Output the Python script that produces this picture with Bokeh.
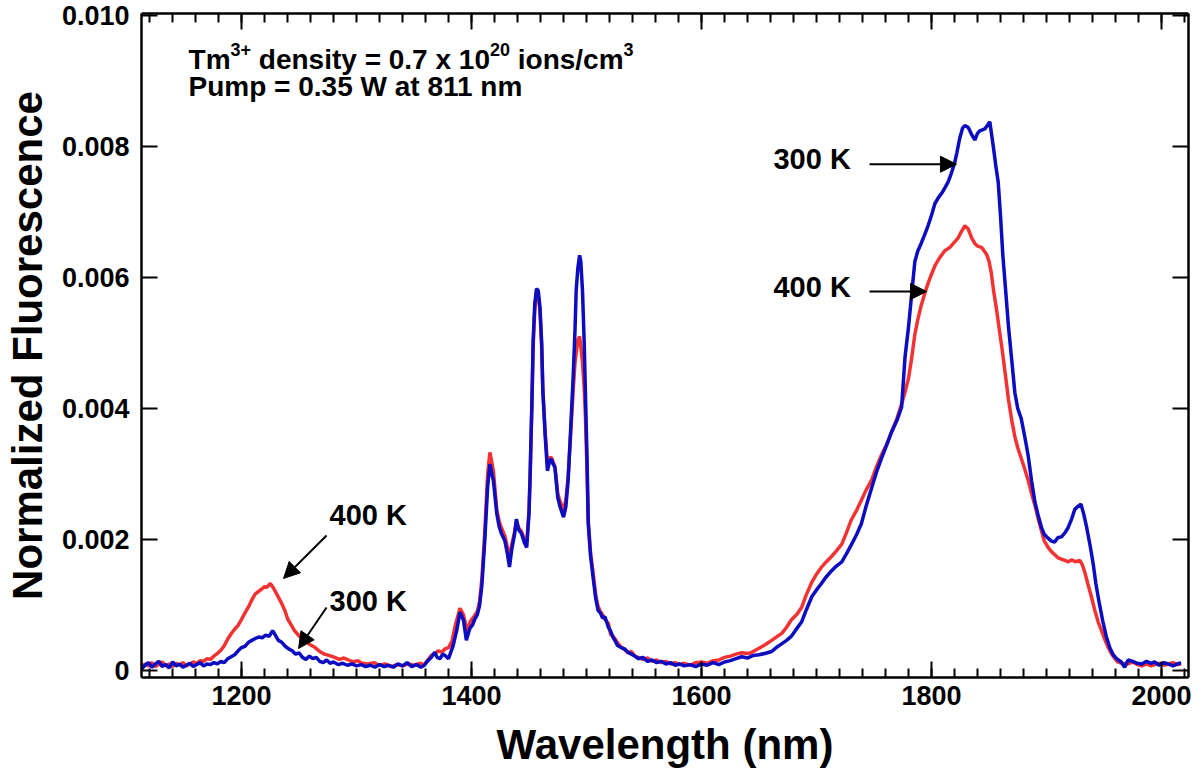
from bokeh.plotting import figure
from bokeh.models import (Range1d, LinearAxis, SingleIntervalTicker, FixedTicker,
                          Label, Arrow, NormalHead, NumeralTickFormatter, CustomJSTickFormatter)
from bokeh.embed import file_html
from bokeh.resources import INLINE

# ---------------- data (fluorescence in units of 1e-3) ----------------
wl_300 = [1113, 1116, 1119, 1122, 1125, 1128, 1131, 1134, 1137, 1140, 1143, 1146, 1149, 1152, 1155, 1158,
          1161, 1164, 1167, 1170, 1173, 1176, 1179, 1182, 1185, 1188, 1191, 1194, 1197, 1200, 1203, 1206,
          1209, 1212, 1215, 1218, 1221, 1224, 1227, 1229, 1232, 1235, 1238, 1241, 1244, 1247, 1250, 1253,
          1256, 1259, 1262, 1265, 1268, 1271, 1274, 1277, 1280, 1284, 1288, 1292, 1296, 1300, 1304, 1308,
          1312, 1316, 1320, 1324, 1328, 1332, 1336, 1340, 1344, 1348, 1352, 1356, 1359, 1362, 1365, 1368,
          1370, 1372.5, 1375, 1377, 1380, 1382, 1384, 1387, 1390, 1393, 1395.5, 1398.5, 1401, 1403, 1405,
          1407, 1409, 1411.5, 1414, 1416, 1419, 1422, 1424, 1426, 1429, 1431, 1433, 1435, 1437.5, 1439, 1441,
          1443.5, 1446, 1448, 1450, 1451, 1452.5, 1453.6, 1455, 1456.5, 1458, 1459.5, 1461, 1462, 1464, 1466,
          1468, 1469.5, 1471, 1472.5, 1475, 1477, 1480, 1482, 1484, 1486, 1488.5, 1490, 1491, 1492.5, 1494,
          1495, 1496.5, 1498, 1499, 1500.5, 1501.5, 1503.5, 1506, 1508, 1510, 1512, 1514, 1516, 1519, 1521,
          1523, 1525, 1527, 1530, 1533, 1536, 1539, 1542, 1545, 1549, 1553, 1557, 1561, 1565, 1569, 1573,
          1577, 1581, 1585, 1590, 1595, 1600, 1605, 1610, 1615, 1620, 1625, 1630, 1635, 1640, 1645, 1650,
          1655, 1661, 1665, 1670, 1674, 1678, 1682, 1687, 1691, 1696, 1700, 1704, 1708, 1713, 1717, 1722,
          1726, 1730, 1735, 1739, 1743, 1748, 1752, 1756.5, 1761, 1765, 1770, 1774, 1777, 1780, 1783, 1785.5,
          1788, 1791, 1794, 1797, 1800, 1803, 1806, 1809, 1812, 1814.5, 1817, 1820, 1822, 1824.6, 1827, 1829,
          1832, 1835, 1837.7, 1840, 1842, 1846.4, 1849, 1850.7, 1853.6, 1856, 1858, 1860, 1862, 1864.5, 1867,
          1870, 1872.5, 1875, 1878, 1881, 1884, 1887, 1890, 1893, 1895.7, 1898, 1901.4, 1904, 1907, 1910,
          1913, 1916, 1918.8, 1922, 1924.6, 1927, 1930, 1932.5, 1935, 1938, 1940.6, 1943, 1946, 1949, 1952,
          1955, 1958, 1961, 1965, 1968, 1971, 1975, 1979, 1983, 1987, 1991, 1994, 1998, 2002, 2006, 2010,
          2014, 2017]
fl_300 = [0.02, 0.08, 0.12, 0.05, 0.10, 0.14, 0.06, 0.09, 0.04, 0.13, 0.07, 0.10, 0.05, 0.08, 0.11, 0.06,
          0.09, 0.12, 0.07, 0.10, 0.09, 0.12, 0.10, 0.14, 0.12, 0.18, 0.21, 0.24, 0.30, 0.35, 0.37, 0.43,
          0.46, 0.49, 0.51, 0.50, 0.54, 0.52, 0.61, 0.55, 0.46, 0.43, 0.37, 0.33, 0.30, 0.25, 0.27, 0.20,
          0.17, 0.22, 0.18, 0.20, 0.14, 0.12, 0.16, 0.11, 0.13, 0.09, 0.11, 0.08, 0.10, 0.07, 0.09, 0.06,
          0.08, 0.05, 0.09, 0.06, 0.08, 0.05, 0.10, 0.07, 0.12, 0.06, 0.09, 0.05, 0.08, 0.15, 0.20, 0.28,
          0.20, 0.18, 0.25, 0.23, 0.18, 0.28, 0.38, 0.60, 0.89, 0.77, 0.46, 0.64, 0.70, 0.79, 0.85,
          0.99, 1.30, 1.98, 2.80, 3.15, 2.90, 2.39, 2.20, 2.09, 1.98, 1.80, 1.58, 1.85, 2.09, 2.31, 2.15,
          2.09, 1.95, 1.88, 2.40, 3.00, 4.10, 5.04, 5.60, 5.83, 5.80, 5.55, 5.00, 4.28, 3.60, 3.05,
          3.20, 3.23, 3.15, 3.10, 2.64, 2.50, 2.34, 2.50, 2.90, 3.60, 4.53, 5.20, 5.80, 6.15, 6.34,
          6.25, 5.80, 5.00, 4.28, 3.20, 2.24, 1.75, 1.38, 1.10, 0.92, 0.88, 0.80, 0.82, 0.66, 0.60,
          0.51, 0.45, 0.38, 0.35, 0.33, 0.28, 0.25, 0.22, 0.18, 0.20, 0.14, 0.16, 0.12, 0.14, 0.10, 0.12,
          0.08, 0.10, 0.07, 0.09, 0.06, 0.10, 0.08, 0.12, 0.09, 0.13, 0.15, 0.18, 0.21, 0.19, 0.23, 0.24,
          0.26, 0.29, 0.35, 0.41, 0.46, 0.52, 0.62, 0.74, 0.92, 1.13, 1.23, 1.32, 1.42, 1.52, 1.59, 1.66,
          1.78, 1.91, 2.08, 2.24, 2.50, 2.79, 3.02, 3.24, 3.44, 3.63, 3.82, 4.02, 4.79, 5.24, 5.79, 6.24,
          6.40, 6.52, 6.65, 6.79, 6.95, 7.13, 7.22, 7.29, 7.38, 7.46, 7.58, 7.74, 7.90, 8.13, 8.28, 8.32,
          8.29, 8.18, 8.10, 8.20, 8.24, 8.27, 8.33, 8.38, 8.02, 7.70, 7.46, 6.95, 6.35, 5.80, 5.24,
          4.70, 4.24, 4.00, 3.85, 3.58, 3.29, 2.90, 2.57, 2.35, 2.18, 2.08, 2.02, 1.98, 1.96, 2.03,
          2.04, 2.10, 2.18, 2.32, 2.46, 2.50, 2.54, 2.38, 2.18, 1.90, 1.63, 1.32, 1.02, 0.75, 0.52,
          0.35, 0.24, 0.18, 0.13, 0.05, 0.16, 0.14, 0.11, 0.10, 0.14, 0.11, 0.13, 0.08, 0.12, 0.10, 0.07,
          0.10, 0.12]

wl_400 = [1113, 1116, 1119, 1122, 1125, 1128, 1131, 1134, 1137, 1140, 1143, 1146, 1149, 1152, 1155, 1158,
          1161, 1164, 1167, 1170, 1173, 1176, 1179, 1182, 1185, 1188, 1191, 1194, 1197, 1200, 1203, 1206,
          1209, 1212, 1215, 1218, 1220, 1222, 1225, 1227, 1229, 1232, 1235, 1238, 1240, 1243, 1246, 1250,
          1255, 1259, 1264, 1268, 1272, 1276, 1281, 1285, 1289, 1293, 1297, 1301, 1305, 1310, 1315, 1320,
          1325, 1330, 1335, 1340, 1345, 1350, 1355, 1359, 1362, 1365, 1368, 1371, 1374, 1377, 1380, 1383,
          1386, 1390, 1393, 1396, 1399, 1402, 1405, 1407, 1409, 1411.5, 1414, 1416, 1419, 1422, 1424, 1426,
          1429, 1431, 1433, 1435, 1437.5, 1439, 1441, 1443.5, 1446, 1448, 1450, 1451, 1452.5, 1453.6, 1455,
          1456.5, 1458, 1459.5, 1461, 1462, 1464, 1466, 1468, 1469.5, 1471, 1472.5, 1475, 1477, 1480, 1482,
          1484, 1486, 1488.5, 1490, 1492.5, 1494, 1495, 1496.5, 1498, 1499, 1500.5, 1501.5, 1503.5, 1506,
          1508, 1510, 1512, 1514, 1516, 1519, 1521, 1523, 1525, 1527, 1530, 1533, 1536, 1539, 1542, 1545,
          1549, 1553, 1557, 1561, 1565, 1569, 1573, 1577, 1581, 1585, 1590, 1595, 1600, 1605, 1610, 1615,
          1620, 1625, 1630, 1635, 1640, 1643, 1648, 1652, 1656, 1661, 1665, 1670, 1674, 1678, 1683, 1687,
          1691, 1696, 1700, 1704, 1708, 1713, 1717, 1722, 1726, 1730, 1735, 1739, 1743, 1748, 1752, 1756.5,
          1761, 1765, 1770, 1774, 1777, 1780, 1783, 1785.5, 1788, 1791, 1794, 1797, 1800, 1803, 1807,
          1811.6, 1816, 1820, 1823, 1826, 1829, 1832, 1835, 1837.7, 1840, 1843.5, 1846, 1848, 1850, 1852,
          1854, 1856.5, 1859, 1861, 1864, 1867, 1870, 1872.5, 1875, 1878, 1881, 1884, 1887, 1890, 1893,
          1895.7, 1898, 1901.4, 1904, 1907, 1910, 1913, 1916, 1919, 1922, 1925, 1929, 1931, 1933, 1936,
          1939, 1942, 1945, 1948, 1951, 1954, 1957, 1960, 1962, 1966, 1971, 1975, 1979, 1983, 1987, 1991,
          1994, 1998, 2002, 2006, 2010, 2014, 2017]
fl_400 = [0.05, 0.10, 0.07, 0.12, 0.06, 0.09, 0.13, 0.07, 0.10, 0.06, 0.11, 0.08, 0.12, 0.07, 0.10, 0.13,
          0.11, 0.15, 0.14, 0.18, 0.17, 0.22, 0.26, 0.31, 0.38, 0.48, 0.56, 0.63, 0.69, 0.78, 0.88, 0.97,
          1.08, 1.17, 1.21, 1.25, 1.28, 1.27, 1.33, 1.28, 1.22, 1.12, 1.02, 0.90, 0.79, 0.70, 0.61, 0.53,
          0.46, 0.40, 0.35, 0.29, 0.25, 0.23, 0.20, 0.17, 0.19, 0.16, 0.13, 0.15, 0.11, 0.10, 0.12, 0.08,
          0.10, 0.06, 0.09, 0.07, 0.10, 0.08, 0.11, 0.09, 0.16, 0.23, 0.25, 0.30, 0.28, 0.33, 0.35, 0.45,
          0.70, 0.95, 0.85, 0.61, 0.75, 0.82, 0.90, 1.05, 1.40, 2.10, 3.00, 3.33, 3.05, 2.45, 2.28, 2.18,
          2.05, 1.90, 1.72, 1.92, 2.12, 2.28, 2.18, 2.12, 2.00, 1.95, 2.45, 3.00, 4.05, 4.95, 5.50,
          5.78, 5.75, 5.50, 4.95, 4.30, 3.65, 3.15, 3.25, 3.25, 3.18, 3.12, 2.70, 2.58, 2.45, 2.60,
          2.95, 3.55, 4.30, 4.70, 5.05, 5.10, 4.95, 4.70, 4.30, 3.90, 3.00, 2.30, 1.80, 1.45,
          1.15, 0.98, 0.90, 0.85, 0.78, 0.72, 0.55, 0.52, 0.48, 0.42, 0.36, 0.32, 0.27, 0.29, 0.22, 0.20,
          0.17, 0.19, 0.14, 0.16, 0.12, 0.14, 0.10, 0.12, 0.09, 0.11, 0.08, 0.12, 0.13, 0.11, 0.15, 0.16,
          0.20, 0.22, 0.25, 0.27, 0.26, 0.27, 0.32, 0.36, 0.40, 0.46, 0.51, 0.57, 0.66, 0.77, 0.86, 0.96,
          1.15, 1.35, 1.47, 1.57, 1.65, 1.74, 1.82, 1.93, 2.10, 2.29, 2.45, 2.60, 2.75, 2.91, 3.10, 3.29,
          3.45, 3.63, 3.85, 4.07, 4.25, 4.46, 4.80, 5.13, 5.35, 5.57, 5.75, 5.91, 6.05, 6.18, 6.30,
          6.41, 6.46, 6.54, 6.60, 6.70, 6.79, 6.74, 6.60, 6.52, 6.48, 6.46, 6.40, 6.35, 6.25, 6.07,
          5.80, 5.52, 5.20, 4.96, 4.55, 4.13, 3.80, 3.57, 3.40, 3.24, 3.08, 2.91, 2.70, 2.52, 2.30,
          2.13, 1.98, 1.88, 1.82, 1.77, 1.72, 1.70, 1.68, 1.66, 1.69, 1.66, 1.68, 1.62, 1.52, 1.32,
          1.13, 0.92, 0.74, 0.60, 0.46, 0.34, 0.24, 0.17, 0.13, 0.11, 0.10, 0.13, 0.09, 0.07, 0.10, 0.07,
          0.09, 0.11, 0.08, 0.10, 0.12, 0.09, 0.10]

y_ticks = [0.0, 0.002, 0.004, 0.006, 0.008, 0.010]
y_tick_labels = ["0", "0.002", "0.004", "0.006", "0.008", "0.010"]

# (text, superscript?, leading space?)
header_line1 = [("Tm", False, False), ("3+", True, False), ("density = 0.7 x 10", False, True),
                ("20", True, False), ("ions/cm", False, True), ("3", True, False)]
header_line2 = "Pump = 0.35 W at 811 nm"

SCALE = 1e-3
FONT = "Liberation Sans"
LIFT = 10  # pixel lift applied to every text label

p = figure(frame_width=1047, frame_height=664, output_backend="svg", toolbar_location=None,
           x_range=Range1d(1113.0, 2023.5), y_range=Range1d(-0.000107, 0.010031),
           min_border_left=140, min_border_right=10, min_border_top=13, min_border_bottom=10,
           x_axis_type=None, y_axis_type=None)
p.grid.visible = False
p.outline_line_color = None
p.background_fill_color = "white"

x_ticker = SingleIntervalTicker(interval=200, num_minor_ticks=10)
y_ticker = FixedTicker(ticks=y_ticks, minor_ticks=[])
blank = CustomJSTickFormatter(code="return '';")


def style_axis(ax, show_labels):
    ax.axis_line_width = 2.5
    ax.axis_line_color = "black"
    ax.major_tick_in = 16
    ax.major_tick_out = 0
    ax.minor_tick_in = 9
    ax.minor_tick_out = 0
    ax.major_tick_line_width = 2
    ax.minor_tick_line_width = 2
    ax.major_tick_line_color = "black"
    ax.minor_tick_line_color = "black"
    ax.major_label_text_font = FONT
    ax.major_label_text_font_style = "bold"
    ax.major_label_text_font_size = "27px"
    ax.major_label_text_color = "black"
    if show_labels:
        ax.axis_label_text_font = FONT
        ax.axis_label_text_font_style = "bold"
        ax.axis_label_text_font_size = "42px"
        ax.axis_label_text_color = "black"
    else:
        ax.formatter = blank
        ax.major_label_standoff = 0


xb = LinearAxis(ticker=x_ticker, axis_label="Wavelength (nm)")
style_axis(xb, True)
xb.major_label_standoff = 8
xb.axis_label_standoff = 13
p.add_layout(xb, "below")

xt = LinearAxis(ticker=x_ticker)
style_axis(xt, False)
p.add_layout(xt, "above")

yl = LinearAxis(ticker=y_ticker, axis_label="Normalized Fluorescence",
                formatter=NumeralTickFormatter(format="0.000"))
yl.major_label_overrides = {t: s for t, s in zip(y_ticks, y_tick_labels)}
style_axis(yl, True)
yl.major_label_standoff = 12
yl.axis_label_standoff = 8
p.add_layout(yl, "left")

yr = LinearAxis(ticker=y_ticker)
style_axis(yr, False)
p.add_layout(yr, "right")

# curves
p.line(wl_400, [v * SCALE for v in fl_400], line_color="#f22222", line_width=3.5, line_alpha=0.92)
p.line(wl_300, [v * SCALE for v in fl_300], line_color="#0c0cc0", line_width=3.5)

# header text with superscripts (Liberation Sans Bold advance widths, em units)
char_w = {"T": 0.611, "m": 0.889, " ": 0.278, "d": 0.611, "e": 0.556, "n": 0.611, "s": 0.556,
          "i": 0.278, "t": 0.333, "y": 0.556, "=": 0.584, ".": 0.278, "x": 0.556, "o": 0.611,
          "/": 0.278, "c": 0.556, "+": 0.584}
MAIN_SIZE, SUP_SIZE = 28, 18
hx = 1153.9
hy1 = 0.009176
hy2 = 0.008757
off = 0.0
for txt, sup, lead in header_line1:
    size = SUP_SIZE if sup else MAIN_SIZE
    if lead:
        off += char_w[" "] * MAIN_SIZE
    p.add_layout(Label(x=hx, y=hy1, x_offset=off, y_offset=LIFT + (10 if sup else 0), text=txt,
                       text_font=FONT, text_font_style="bold",
                       text_font_size=f"{size}px", text_color="black",
                       text_baseline="alphabetic"))
    off += sum(char_w.get(ch, 0.556) for ch in txt) * size
p.add_layout(Label(x=hx, y=hy2, y_offset=LIFT, text=header_line2, text_font=FONT,
                   text_font_style="bold", text_font_size=f"{MAIN_SIZE}px", text_color="black",
                   text_baseline="alphabetic"))

# annotations
ann_labels = [("300 K", 1662.6, 0.007664), ("400 K", 1662.6, 0.005695),
              ("400 K", 1276.5, 0.002214), ("300 K", 1276.5, 0.000901)]
for txt, x, y in ann_labels:
    p.add_layout(Label(x=x, y=y, y_offset=LIFT, text=txt, text_font=FONT, text_font_style="bold",
                       text_font_size="29px", text_color="black", text_baseline="alphabetic"))

arrows = [(1746.1, 0.00773, 1821.7, 0.00773), (1746.1, 0.005786, 1795.7, 0.005786),
          (1273.9, 0.002061, 1236.5, 0.001405), (1273.9, 0.000962, 1249.6, 0.000336)]
for x0, y0, x1, y1 in arrows:
    p.add_layout(Arrow(x_start=x0, y_start=y0, x_end=x1, y_end=y1, line_width=2, line_color="black",
                       end=NormalHead(size=16, fill_color="black", line_color="black")))

open("out.html", "w").write(file_html(p, INLINE))
